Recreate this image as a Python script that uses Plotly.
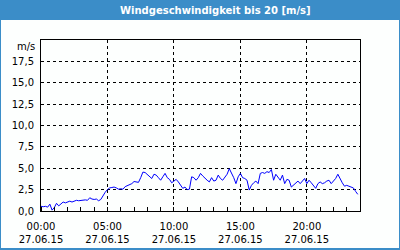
import pandas as pd
import plotly.graph_objects as go

# ---- data ----
start_time = "2015-06-27 00:00"
interval = "10min"
wind_speed = [
    0.55, 0.5, 0.55, 0.45, 0.8, 0.1, 0.4, 0.9, 0.6, 0.85,
    1.05, 0.95, 1.1, 1.15, 1.05, 1.2, 1.25, 1.2, 1.25, 1.25,
    1.3, 1.25, 1.55, 1.4, 1.35, 1.4, 1.2, 1.35, 1.8, 2.2,
    2.5, 2.7, 2.75, 2.8, 2.7, 2.55, 2.6, 2.55, 2.85, 3.0,
    3.1, 3.2, 3.45, 3.4, 3.35, 3.9, 4.55, 4.5, 4.3, 4.0,
    3.8, 4.3, 4.2, 3.9, 3.6, 4.0, 4.4, 3.9, 3.7, 3.3,
    3.55, 3.7, 3.4, 3.0, 2.65, 2.8, 2.5, 2.55, 4.0, 3.9,
    3.6, 3.9, 4.4, 4.1, 3.8, 3.6, 3.4, 3.9, 3.5, 3.6,
    4.2, 3.8, 3.6, 4.0, 4.3, 4.95, 4.5, 3.9, 3.2, 4.0,
    4.4, 3.9, 3.8, 3.6, 2.45, 3.0, 3.3, 3.5, 3.2, 4.4,
    4.5, 4.4, 4.6, 4.5, 4.85, 3.6, 4.3, 4.0, 3.6, 4.2,
    3.2, 3.7, 3.6, 2.8, 3.0, 3.3, 3.5, 3.2, 3.5, 3.8,
    3.2, 3.6, 3.3, 3.0, 2.65, 3.2, 3.4, 3.2, 3.3, 3.5,
    3.6, 3.2, 3.5, 3.8, 4.3, 3.7, 3.3, 2.9, 3.0, 2.9,
    2.8, 2.7, 2.3, 1.95,
]
x_tick_times = ["2015-06-27 00:00", "2015-06-27 05:00", "2015-06-27 10:00",
                "2015-06-27 15:00", "2015-06-27 20:00"]
x_tick_labels = ["00:00<br>27.06.15", "05:00<br>27.06.15", "10:00<br>27.06.15",
                 "15:00<br>27.06.15", "20:00<br>27.06.15"]
y_tick_values = [0, 2.5, 5, 7.5, 10, 12.5, 15, 17.5]
y_tick_labels = ["0,0", "2,5", "5,0", "7,5", "10,0", "12,5", "15,0", "17,5"]
title_text = "Windgeschwindigkeit bis 20 [m/s]"
unit_text = "m/s"

times = pd.date_range(start_time, periods=len(wind_speed), freq=interval)

# ---- layout geometry ----
W, H = 400, 250
L, R, T, B = 41, 40, 40, 39
pw, ph = W - L - R, H - T - B
def px(x):
    return (x - L) / pw
def py(y):
    return (H - B - y) / ph

FONT = "DejaVu Sans"
BLUE = "#3b8dc8"

fig = go.Figure()
fig.add_trace(go.Scatter(x=times, y=wind_speed, mode="lines",
                         line=dict(color="#0000ff", width=1), hoverinfo="skip"))

fig.update_layout(
    width=W, height=H,
    margin=dict(l=L, r=R, t=T, b=B, pad=0, autoexpand=False),
    paper_bgcolor="#fdfffe", plot_bgcolor="#fdfffe",
    showlegend=False,
    font=dict(family=FONT, size=10, color="#000000"),
    xaxis=dict(
        range=["2015-06-27 00:00", "2015-06-28 00:00"],
        tickvals=x_tick_times, ticktext=x_tick_labels, automargin=False,
        ticks="", showgrid=True, gridcolor="#000000", gridwidth=1,
        griddash="3px,3px", showline=True, linecolor="#000000", linewidth=1,
        mirror=True, zeroline=False, ticklabelstandoff=6,
        minor=dict(dtick=3600000, ticks="inside", ticklen=4, tickcolor="#000000",
                   showgrid=False, tick0="2015-06-27 00:00"),
        fixedrange=True,
    ),
    yaxis=dict(
        range=[0, 20], tickvals=y_tick_values, ticktext=y_tick_labels,
        automargin=False,
        ticks="", showgrid=True, gridcolor="#000000", gridwidth=1,
        griddash="3px,3px", showline=True, linecolor="#000000", linewidth=1,
        mirror=True, zeroline=False, ticklabelstandoff=4, fixedrange=True,
    ),
    shapes=[
        dict(type="rect", xref="paper", yref="paper", x0=px(0), x1=px(W),
             y0=py(20), y1=py(0), fillcolor=BLUE, line=dict(width=0), layer="above"),
        dict(type="rect", xref="paper", yref="paper", x0=px(0), x1=px(1),
             y0=py(H), y1=py(0), fillcolor=BLUE, line=dict(width=0), layer="above"),
        dict(type="rect", xref="paper", yref="paper", x0=px(W - 1), x1=px(W),
             y0=py(H), y1=py(0), fillcolor=BLUE, line=dict(width=0), layer="above"),
        dict(type="rect", xref="paper", yref="paper", x0=px(0), x1=px(W),
             y0=py(H), y1=py(H - 2), fillcolor=BLUE, line=dict(width=0), layer="above"),
    ],
    annotations=[
        dict(text=title_text, xref="paper", yref="paper", x=px(215), y=py(10.5),
             xanchor="center", yanchor="middle", showarrow=False,
             font=dict(family=FONT, size=10, color="#ffffff", weight="bold")),
        dict(text=unit_text, xref="paper", yref="paper", x=px(37), y=py(46),
             xanchor="right", yanchor="middle", showarrow=False,
             font=dict(family=FONT, size=10, color="#000000")),
    ],
)

fig.write_html("out.html")
